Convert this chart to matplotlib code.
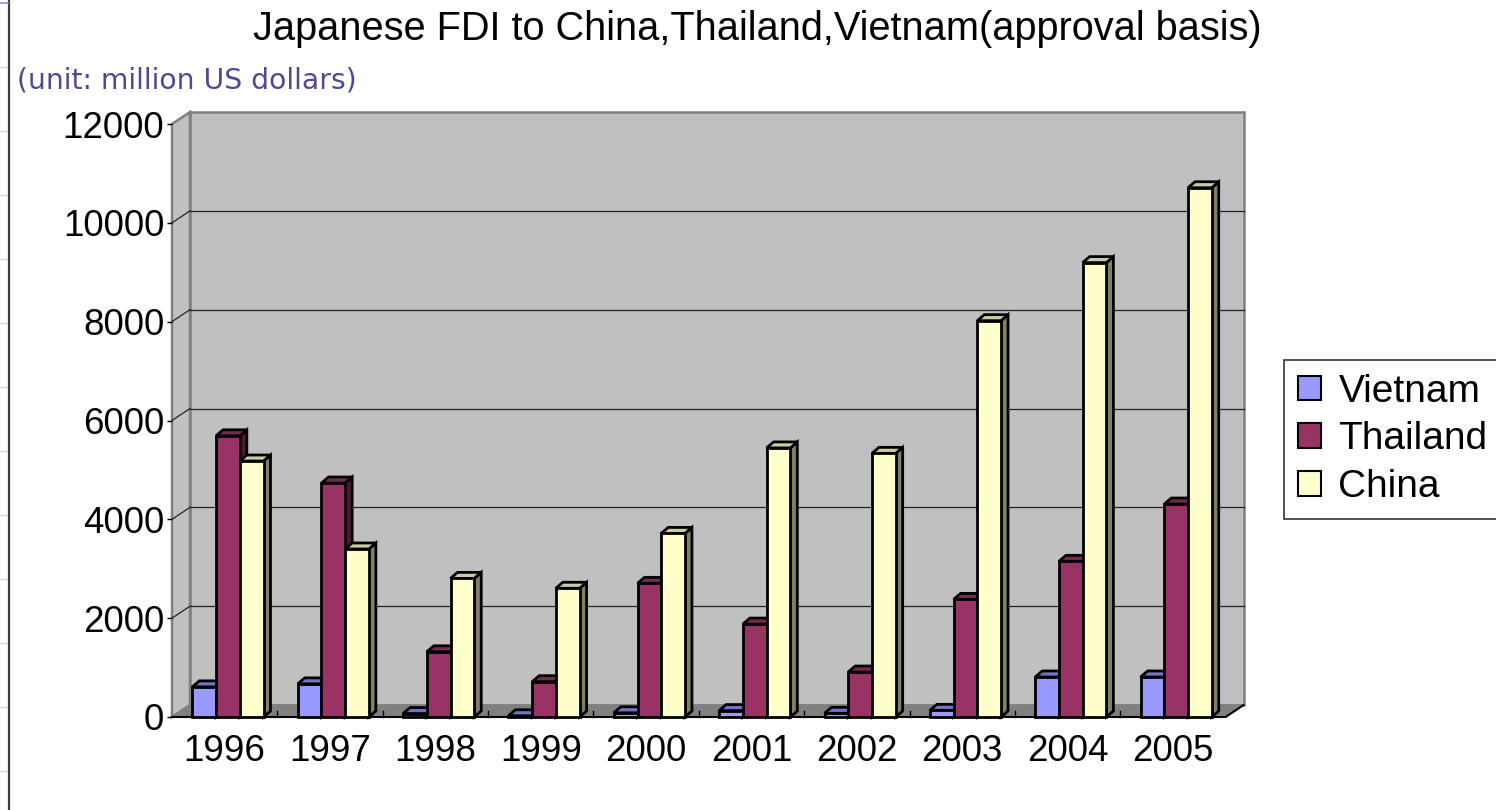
import matplotlib.pyplot as plt
from matplotlib.patches import Polygon, Patch
from matplotlib.lines import Line2D

years = ["1996", "1997", "1998", "1999", "2000", "2001", "2002", "2003", "2004", "2005"]
series = ["Vietnam", "Thailand", "China"]
vietnam = [610, 670, 70, 25, 85, 130, 75, 135, 810, 810]
thailand = [5690, 4735, 1320, 715, 2705, 1880, 910, 2380, 3150, 4310]
china = [5180, 3400, 2805, 2605, 3715, 5445, 5335, 8020, 9195, 10710]
yticks = [0, 2000, 4000, 6000, 8000, 10000, 12000]

# face colours per series: front, top, side
front_colors = ["#9999FF", "#993366", "#FFFFCC"]
top_colors = ["#7373C8", "#7A2952", "#CCCCA3"]
side_colors = ["#4D4D80", "#4D1A33", "#808066"]

W, H = 1496, 810
fig = plt.figure(figsize=(W / 100, H / 100), dpi=100)
plt.rcParams["font.family"] = ["Liberation Sans", "DejaVu Sans"]

# front plane of the 3D box in pixels
x0, x1 = 172, 1225.6
y_top, y_zero = 124, 717
ax = fig.add_axes([x0 / W, 1 - y_zero / H, (x1 - x0) / W, (y_zero - y_top) / H])
ax.set_xlim(-0.5, 9.5)
ax.set_ylim(0, 12000)

px_x = (x1 - x0) / 10.0          # pixels per category
px_y = (y_zero - y_top) / 12000  # pixels per unit
DX, DY = 18 / px_x, 12 / px_y    # wall depth
BDX, BDY = 7 / px_x, 6 / px_y    # bar depth
w = 0.225
shift = 0.031

# walls and floor
back = Polygon([(-0.5 + DX, DY), (9.5 + DX, DY), (9.5 + DX, 12000 + DY), (-0.5 + DX, 12000 + DY)],
               closed=True, facecolor="#C0C0C0", edgecolor="#808080", lw=1.8, clip_on=False, zorder=1)
side = Polygon([(-0.5, 0), (-0.5 + DX, DY), (-0.5 + DX, 12000 + DY), (-0.5, 12000)],
               closed=True, facecolor="#C0C0C0", edgecolor="#808080", lw=1.8, clip_on=False, zorder=1)
floor = Polygon([(-0.5, 0), (9.5, 0), (9.5 + DX, DY), (-0.5 + DX, DY)],
                closed=True, facecolor="#808080", edgecolor="#808080", lw=1, clip_on=False, zorder=1)
for p in (back, side, floor):
    ax.add_patch(p)

for v in yticks[1:-1]:
    ax.plot([-0.5 + DX, 9.5 + DX], [v + DY, v + DY], color="#222222", lw=0.9, zorder=2, clip_on=False)
    ax.plot([-0.5, -0.5 + DX], [v, v + DY], color="#222222", lw=0.9, zorder=2, clip_on=False)
ax.plot([-0.5, 9.5, 9.5 + DX], [0, 0, DY], color="black", lw=1.5, zorder=2, clip_on=False)
for b in range(1, 10):
    ax.plot([b - 0.5, b - 0.5], [0, 6 / px_y], color="black", lw=1, zorder=2, clip_on=False)

# bars: front face from ax.bar, top and side faces as polygons
values = [vietnam, thailand, china]
z = 3
for i in range(len(years)):
    for k in range(3):
        v = values[k][i]
        xl = i + shift + (k - 1.5) * w
        sd = Polygon([(xl + w, 0), (xl + w + BDX, BDY), (xl + w + BDX, v + BDY), (xl + w, v)],
                     closed=True, facecolor=side_colors[k], edgecolor="black", lw=2,
                     joinstyle="miter", clip_on=False, zorder=z)
        tp = Polygon([(xl, v), (xl + w, v), (xl + w + BDX, v + BDY), (xl + BDX, v + BDY)],
                     closed=True, facecolor=top_colors[k], edgecolor="black", lw=2,
                     joinstyle="miter", clip_on=False, zorder=z)
        ax.add_patch(sd)
        ax.add_patch(tp)
        ax.bar(xl, v, width=w, align="edge", color=front_colors[k], edgecolor="black",
               linewidth=2, zorder=z + 0.5, clip_on=False)
        z += 1

for s in ax.spines.values():
    s.set_visible(False)
ax.set_yticks(yticks)
ax.set_yticklabels([str(t) for t in yticks], fontsize=26.5)
ax.tick_params(axis="y", length=3.5, width=1, pad=2, color="black")
ax.set_xticks(range(len(years)))
ax.set_xticklabels(years, fontsize=26.5)
ax.tick_params(axis="x", length=0, pad=12)

fig.text(757 / W, 1 - 40 / H, "Japanese FDI to China,Thailand,Vietnam(approval basis)",
         ha="center", va="baseline", fontsize=28.6)
fig.text(17 / W, 1 - 88 / H, "(unit: million US dollars)", ha="left", va="baseline",
         fontsize=20.3, color="#4A4A96", family="DejaVu Sans")

handles = [Patch(facecolor=c, edgecolor="black", linewidth=1.5) for c in front_colors]
leg = ax.legend(handles, series, loc="upper left", bbox_to_anchor=(1284 / W, 1 - 360 / H),
                bbox_transform=fig.transFigure, fontsize=28, frameon=True, fancybox=False,
                edgecolor="black", borderpad=0.35, handlelength=0.6, handleheight=0.6,
                handletextpad=0.45, labelspacing=0.3, borderaxespad=0)
leg.get_frame().set_linewidth(1.2)

# slide border on the left with faint ruler marks
fig.add_artist(Line2D([9 / W, 9 / W], [0, 1], color="#3A3A3A", lw=1.6))
fig.add_artist(Line2D([0, 8 / W], [1 - 3 / H, 1 - 3 / H], color="#7F8FE8", lw=1.2))
for k in range(1, 13):
    yk = 1 - (3 + 64 * k) / H
    fig.add_artist(Line2D([0, 7 / W], [yk, yk], color="#C5CBF0", lw=1, ls=(0, (2, 1))))

fig.savefig("out.png", dpi=100)
